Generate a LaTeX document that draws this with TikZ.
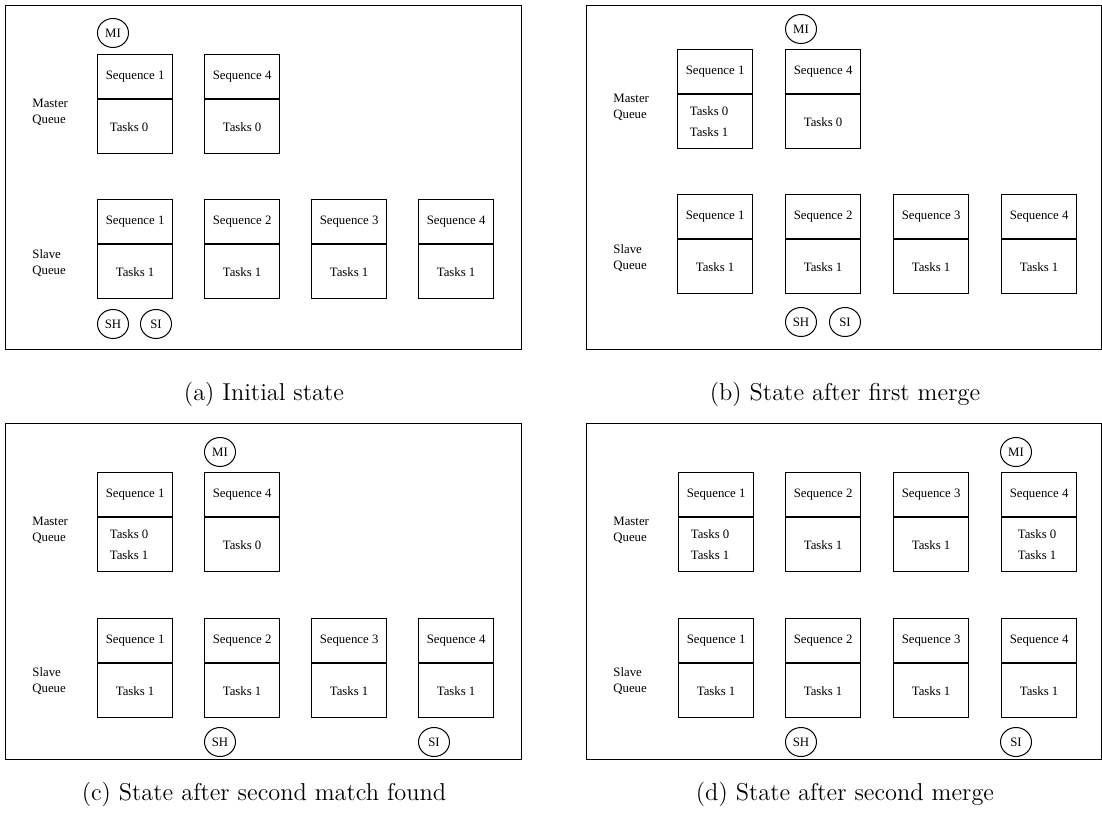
\documentclass[tikz,border=0pt]{standalone}
\usepackage{fontspec}
\newfontfamily\boxfont{Liberation Serif}
\usetikzlibrary{shapes.geometric}

% one box = header (sequence name) stacked on a body (task list)
\newcommand\seqpair[5]{%
  \node[seqhead] (#1h) at (#2,#3) {#4};
  \node[seqbody] (#1b) at (#1h.south) {#5};
}
% body text set slightly left of centre
\newcommand\lft[1]{#1\hspace*{6pt}}

\tikzset{
  boxtext/.style={font=\boxfont\fontsize{6.4}{8}\selectfont},
  panelframe/.style={draw, line width=0.5pt},
  seqhead/.style={boxtext, draw, line width=0.6pt, minimum width=37.5pt,
    minimum height=22pt, inner sep=0pt, anchor=north west},
  seqbody/.style={draw, line width=0.6pt, minimum width=37.5pt,
    minimum height=27pt, inner sep=0pt, anchor=north, align=center,
    font=\boxfont\fontsize{6.4}{10.75}\selectfont},
  marker/.style={boxtext, draw, ellipse, line width=0.5pt, minimum width=15.5pt,
    minimum height=14.5pt, inner sep=0pt},
  qlabel/.style={boxtext, anchor=west, align=left, inner sep=0pt},
  subcap/.style={font=\fontsize{12.2}{14}\selectfont, inner sep=0pt, anchor=base}
}

\begin{document}
\begin{tikzpicture}[x=0.5pt, y=-0.5pt]
\useasboundingbox (0,0) rectangle (1102,829);

% ---------------- (a) initial state ----------------
\draw[panelframe] (5,6) rectangle (521,349);
\node[marker] (aMI) at (113,33) {MI};
\node[qlabel] (aMQ) at (32,112) {Master\\Queue};
\seqpair{aM1}{97}{54}{Sequence 1}{\lft{Tasks 0}}
\seqpair{aM4}{204}{54}{Sequence 4}{Tasks 0}
\node[qlabel] (aSQ) at (32,263.5) {Slave\\Queue};
\seqpair{aS1}{97}{199}{Sequence 1}{Tasks 1}
\seqpair{aS2}{204}{199}{Sequence 2}{Tasks 1}
\seqpair{aS3}{311}{199}{Sequence 3}{Tasks 1}
\seqpair{aS4}{418}{199}{Sequence 4}{Tasks 1}
\node[marker] (aSH) at (113,324) {SH};
\node[marker] (aSI) at (156,324) {SI};
\node[subcap] (acap) at (264,400) {(a) Initial state};

% ---------------- (b) after first merge ----------------
\draw[panelframe] (586,6) rectangle (1101,349);
\node[marker] (bMI) at (801,29) {MI};
\node[qlabel] (bMQ) at (613,107.5) {Master\\Queue};
\seqpair{bM1}{677}{49}{Sequence 1}{\lft{Tasks 0}\\\lft{Tasks 1}}
\seqpair{bM4}{785}{49}{Sequence 4}{Tasks 0}
\node[qlabel] (bSQ) at (613,258) {Slave\\Queue};
\seqpair{bS1}{677}{194}{Sequence 1}{Tasks 1}
\seqpair{bS2}{785}{194}{Sequence 2}{Tasks 1}
\seqpair{bS3}{893}{194}{Sequence 3}{Tasks 1}
\seqpair{bS4}{1001}{194}{Sequence 4}{Tasks 1}
\node[marker] (bSH) at (801,322) {SH};
\node[marker] (bSI) at (845,322) {SI};
\node[subcap] (bcap) at (845,400) {(b) State after first merge};

% ---------------- (c) after second match found ----------------
\draw[panelframe] (5,423) rectangle (521,759);
\node[marker] (cMI) at (220,452) {MI};
\node[qlabel] (cMQ) at (32,530.5) {Master\\Queue};
\seqpair{cM1}{97}{472}{Sequence 1}{\lft{Tasks 0}\\\lft{Tasks 1}}
\seqpair{cM4}{204}{472}{Sequence 4}{Tasks 0}
\node[qlabel] (cSQ) at (32,681) {Slave\\Queue};
\seqpair{cS1}{97}{618}{Sequence 1}{Tasks 1}
\seqpair{cS2}{204}{618}{Sequence 2}{Tasks 1}
\seqpair{cS3}{311}{618}{Sequence 3}{Tasks 1}
\seqpair{cS4}{418}{618}{Sequence 4}{Tasks 1}
\node[marker] (cSH) at (220,742) {SH};
\node[marker] (cSI) at (434,742) {SI};
\node[subcap] (ccap) at (264,800) {(c) State after second match found};

% ---------------- (d) after second merge ----------------
\draw[panelframe] (586,423) rectangle (1101,759);
\node[marker] (dMI) at (1016,452) {MI};
\node[qlabel] (dMQ) at (613,530.5) {Master\\Queue};
\seqpair{dM1}{678}{472}{Sequence 1}{\lft{Tasks 0}\\\lft{Tasks 1}}
\seqpair{dM2}{785}{472}{Sequence 2}{Tasks 1}
\seqpair{dM3}{893}{472}{Sequence 3}{Tasks 1}
\seqpair{dM4}{1001}{472}{Sequence 4}{Tasks 0\hspace*{2pt}\\Tasks 1\hspace*{2pt}}
\node[qlabel] (dSQ) at (613,681) {Slave\\Queue};
\seqpair{dS1}{678}{618}{Sequence 1}{Tasks 1}
\seqpair{dS2}{785}{618}{Sequence 2}{Tasks 1}
\seqpair{dS3}{893}{618}{Sequence 3}{Tasks 1}
\seqpair{dS4}{1001}{618}{Sequence 4}{Tasks 1}
\node[marker] (dSH) at (801,742) {SH};
\node[marker] (dSI) at (1016,742) {SI};
\node[subcap] (dcap) at (845,800) {(d) State after second merge};
\end{tikzpicture}
\end{document}
